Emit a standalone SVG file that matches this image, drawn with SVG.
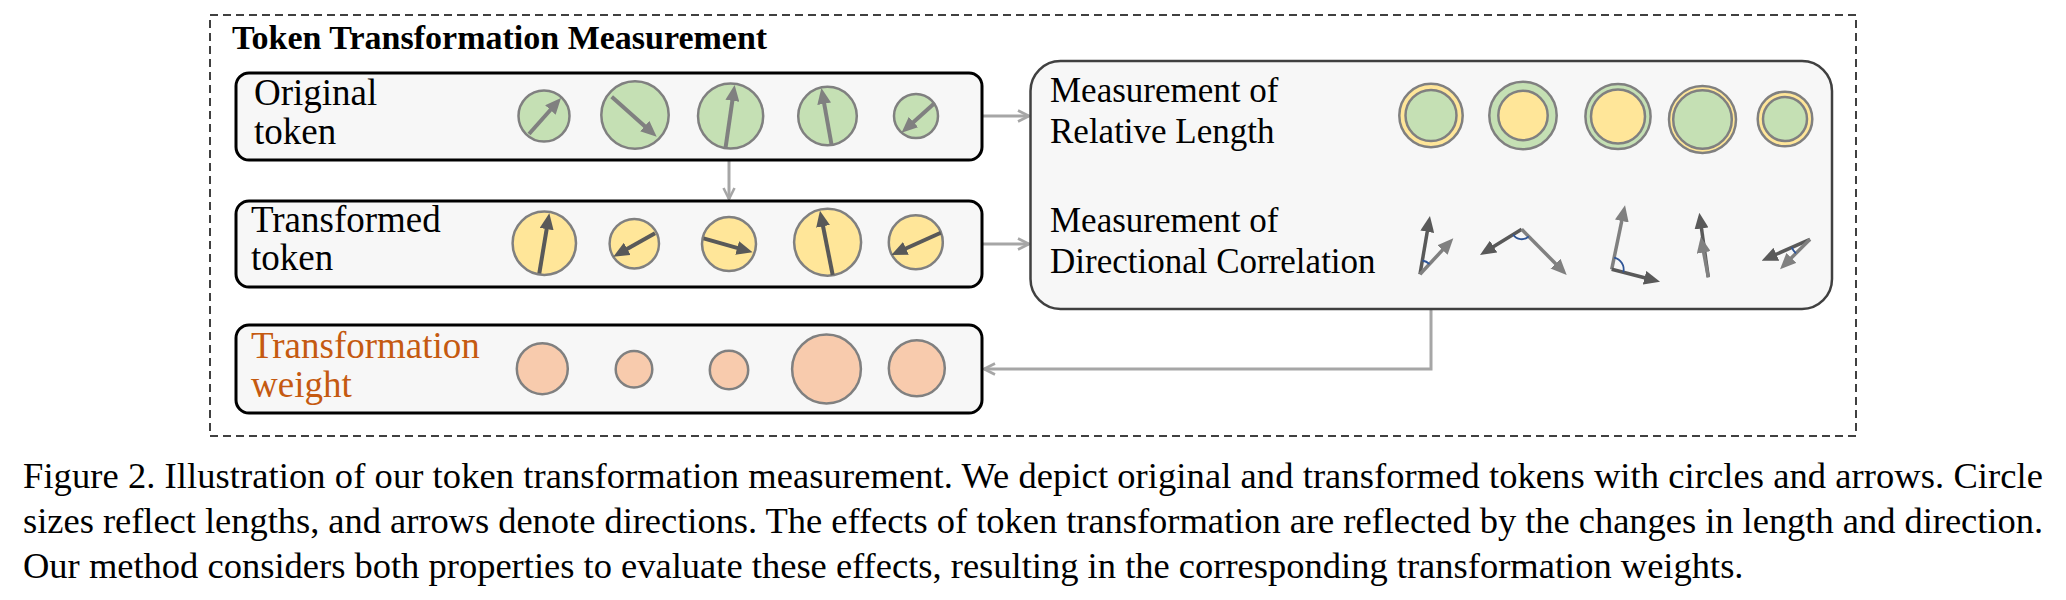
<svg xmlns="http://www.w3.org/2000/svg" width="2066" height="600" viewBox="0 0 2066 600">
<style>
.box{fill:#f7f7f7;stroke:#000;stroke-width:3}
.big{fill:#f7f7f7;stroke:#404040;stroke-width:2.5}
.lbl{font-family:"Liberation Serif","Times New Roman",serif;font-size:37px;fill:#000}
.lbl2{font-family:"Liberation Serif","Times New Roman",serif;font-size:35px;fill:#000}
.cap{font-family:"Liberation Serif","Times New Roman",serif;font-size:36.5px;fill:#000}
.g{fill:#c5e0b4;stroke:#808080;stroke-width:2.5}
.y{fill:#ffe699;stroke:#808080;stroke-width:2.5}
.p{fill:#f8cbad;stroke:#808080;stroke-width:2.5}
.ag{stroke:#808080;stroke-width:4;fill:none;marker-end:url(#hg)}
.ad{stroke:#595959;stroke-width:4;fill:none;marker-end:url(#hd)}
.ag2{stroke:#808080;stroke-width:3.5;fill:none;marker-end:url(#hg)}
.ad2{stroke:#595959;stroke-width:3.5;fill:none;marker-end:url(#hd)}
.arc{stroke:#2f5597;stroke-width:1.8;fill:none}
.con{stroke:#a6a6a6;stroke-width:3;fill:none;marker-end:url(#chev)}
</style>
<defs>
<marker id="hg" viewBox="0 0 16 14" refX="8" refY="7" markerWidth="16" markerHeight="14" orient="auto" markerUnits="userSpaceOnUse"><path d="M0,0 L16,7 L0,14 z" fill="#808080"/></marker>
<marker id="hd" viewBox="0 0 16 14" refX="8" refY="7" markerWidth="16" markerHeight="14" orient="auto" markerUnits="userSpaceOnUse"><path d="M0,0 L16,7 L0,14 z" fill="#595959"/></marker>
<marker id="chev" viewBox="0 0 14 14" refX="12.5" refY="7" markerWidth="14" markerHeight="14" orient="auto" markerUnits="userSpaceOnUse"><path d="M1.5,1.5 L12.5,7 L1.5,12.5" fill="none" stroke="#a6a6a6" stroke-width="2.6"/></marker>
</defs>
<rect width="2066" height="600" fill="#fff"/>
<g id="frame">
<rect x="210" y="15" width="1646" height="421" fill="none" stroke="#404040" stroke-width="2" stroke-dasharray="8 5"/>
<text x="232" y="49" font-family="Liberation Serif, Times New Roman, serif" font-size="34" font-weight="bold">Token Transformation Measurement</text>
</g>
<g id="connectors">
<line class="con" x1="729" y1="160" x2="729" y2="199"/>
<line class="con" x1="982" y1="116" x2="1029" y2="116"/>
<line class="con" x1="982" y1="244" x2="1029" y2="244"/>
<path class="con" d="M1431,309 V369 H984"/>
</g>
<g id="node-original">
<rect class="box" x="236" y="73" width="746" height="87" rx="13"/>
<text class="lbl" x="254" y="105">Original</text>
<text class="lbl" x="254" y="144">token</text>
<circle class="g" cx="544" cy="116" r="25.5"/>
<circle class="g" cx="635" cy="115" r="33.7"/>
<circle class="g" cx="730.6" cy="116" r="32.6"/>
<circle class="g" cx="827.5" cy="116" r="29.3"/>
<circle class="g" cx="916" cy="116" r="22"/>
<line class="ag" x1="529" y1="134" x2="555.7" y2="104"/>
<line class="ag" x1="611.7" y1="96.7" x2="650.7" y2="131.4"/>
<line class="ag" x1="725.5" y1="148" x2="733.5" y2="92.9"/>
<line class="ag" x1="831.6" y1="145" x2="822.8" y2="95.9"/>
<line class="ag" x1="934.7" y1="103" x2="907.5" y2="127.4"/>
</g>
<g id="node-transformed">
<rect class="box" x="236" y="201" width="746" height="86" rx="13"/>
<text class="lbl" x="251" y="232">Transformed</text>
<text class="lbl" x="251" y="270">token</text>
<circle class="y" cx="544.3" cy="243.3" r="31.7"/>
<circle class="y" cx="634.3" cy="243.7" r="24.7"/>
<circle class="y" cx="729" cy="244" r="27"/>
<circle class="y" cx="827.6" cy="242.3" r="33.5"/>
<circle class="y" cx="915.8" cy="242.3" r="27"/>
<line class="ad" x1="539.3" y1="273.3" x2="548" y2="221.2"/>
<line class="ad" x1="655" y1="233.3" x2="620.3" y2="252.8"/>
<line class="ad" x1="703.6" y1="238.3" x2="744.9" y2="250.1"/>
<line class="ad" x1="832.7" y1="275" x2="821.5" y2="218.5"/>
<line class="ad" x1="940.8" y1="232.7" x2="898.6" y2="251.7"/>
</g>
<g id="node-weight">
<rect class="box" x="236" y="325" width="746" height="88" rx="13"/>
<text class="lbl" x="251" y="358" style="fill:#c55a11">Transformation</text>
<text class="lbl" x="251" y="397" style="fill:#c55a11">weight</text>
<circle class="p" cx="542.3" cy="368.7" r="25.5"/>
<circle class="p" cx="634" cy="369.3" r="18.3"/>
<circle class="p" cx="729" cy="370" r="19.2"/>
<circle class="p" cx="826.5" cy="369" r="34.4"/>
<circle class="p" cx="916.8" cy="368.3" r="28"/>
</g>
<g id="node-measurement">
<rect class="big" x="1030.5" y="61" width="801.5" height="248" rx="30"/>
<text class="lbl2" x="1050" y="102">Measurement of</text>
<text class="lbl2" x="1050" y="143">Relative Length</text>
<text class="lbl2" x="1050" y="232">Measurement of</text>
<text class="lbl2" x="1050" y="273">Directional Correlation</text>
<circle class="y" cx="1431" cy="115.5" r="31.7"/>
<circle class="g" cx="1431" cy="115.5" r="25.5"/>
<circle class="g" cx="1523" cy="115.5" r="33.7"/>
<circle class="y" cx="1523" cy="115.5" r="24.7"/>
<circle class="g" cx="1618" cy="116.5" r="32.6"/>
<circle class="y" cx="1618" cy="116.5" r="27"/>
<circle class="y" cx="1702.5" cy="119.5" r="33.5"/>
<circle class="g" cx="1702.5" cy="119.5" r="29.3"/>
<circle class="y" cx="1785" cy="119" r="27.3"/>
<circle class="g" cx="1785" cy="119" r="22"/>
<line class="ad2" x1="1420" y1="274.3" x2="1428.6" y2="223.9"/>
<line class="ag2" x1="1420" y1="274.3" x2="1447.9" y2="244.2"/>
<path class="arc" d="M1422.4,260.5 A14,14 0 0,1 1429.5,264"/>
<line class="ad2" x1="1521.7" y1="229.3" x2="1486.8" y2="250.8"/>
<line class="ag2" x1="1521.7" y1="229.3" x2="1561.1" y2="269.3"/>
<path class="arc" d="M1528.7,236.4 A10,10 0 0,1 1513.2,234.5"/>
<line class="ag2" x1="1611.7" y1="269.3" x2="1623.4" y2="213.2"/>
<line class="ad2" x1="1611.7" y1="269.3" x2="1652.3" y2="279.7"/>
<path class="arc" d="M1614.1,257.6 A12,12 0 0,1 1623.3,272.3"/>
<line class="ad2" x1="1708.3" y1="277.3" x2="1700.4" y2="220.6"/>
<line class="ag2" x1="1708.3" y1="277.3" x2="1702.2" y2="244.6"/>
<line class="ad2" x1="1810" y1="239.3" x2="1769" y2="257.5"/>
<line class="ag2" x1="1810" y1="239.3" x2="1785.7" y2="263.6"/>
<path class="arc" d="M1795.9,253.4 A20,20 0 0,1 1791.7,247.4"/>
</g>
<g id="caption">
<text class="cap" x="23" y="488" textLength="2020" lengthAdjust="spacing">Figure 2. Illustration of our token transformation measurement. We depict original and transformed tokens with circles and arrows. Circle</text>
<text class="cap" x="23" y="533" textLength="2020" lengthAdjust="spacing">sizes reflect lengths, and arrows denote directions. The effects of token transformation are reflected by the changes in length and direction.</text>
<text class="cap" x="23" y="578">Our method considers both properties to evaluate these effects, resulting in the corresponding transformation weights.</text>
</g>
</svg>
